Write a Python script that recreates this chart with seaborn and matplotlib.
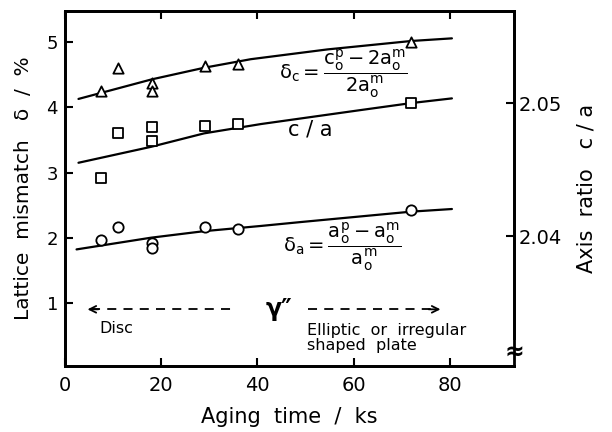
import matplotlib.pyplot as plt
import seaborn as sns

# measured points (aging time in ks)
time_pts = [7.5, 11, 18, 18, 29, 36, 72]
delta_c = [4.25, 4.61, 4.38, 4.25, 4.64, 4.66, 5.00]
ca_ratio = [2.04438, 2.04777, 2.04822, 2.04717, 2.04827, 2.04842, 2.05000]
delta_a = [1.96, 2.16, 1.92, 1.84, 2.16, 2.14, 2.43]

# fitted curves
fit_time_c = [2.8, 18, 29, 38.6, 54.5, 72, 80.4]
fit_delta_c = [4.13, 4.43, 4.61, 4.74, 4.89, 5.02, 5.06]
fit_time_ca = [2.8, 17.9, 28.9, 40.7, 61.4, 72, 80.4]
fit_ca = [2.04551, 2.04671, 2.04772, 2.04842, 2.04947, 2.05000, 2.05035]
fit_time_a = [2.4, 17.9, 28.9, 40.7, 49, 72, 80.4]
fit_delta_a = [1.82, 2.00, 2.10, 2.18, 2.24, 2.40, 2.44]

x_ticks = [0, 20, 40, 60, 80]
y_ticks = [1, 2, 3, 4, 5]
ca_ticks = [2.04, 2.05]

sns.set_theme(style="white")
plt.rcParams['font.family'] = ['DejaVu Sans']
plt.rcParams['mathtext.default'] = 'regular'
for key in ('text.color', 'axes.labelcolor', 'xtick.color', 'ytick.color'):
    plt.rcParams[key] = 'black'

fig = plt.figure(figsize=(6.12, 4.32), dpi=100)
ax = fig.add_axes([65 / 612, 1 - 366 / 432, 449 / 612, 355 / 432])
ax2 = ax.twinx()

line_kw = dict(color='black', lw=1.6, sort=False, estimator=None, legend=False)
mark_kw = dict(color='white', edgecolor='black', linewidth=1.3, s=55, zorder=4, legend=False)

sns.lineplot(x=fit_time_c, y=fit_delta_c, ax=ax, **line_kw)
sns.lineplot(x=fit_time_a, y=fit_delta_a, ax=ax, **line_kw)
sns.lineplot(x=fit_time_ca, y=fit_ca, ax=ax2, **line_kw)
sns.scatterplot(x=time_pts, y=delta_c, ax=ax, marker='^', **mark_kw)
sns.scatterplot(x=time_pts, y=delta_a, ax=ax, marker='o', **mark_kw)
sns.scatterplot(x=time_pts, y=ca_ratio, ax=ax2, marker='s', **mark_kw)

ax.set_xlim(0, 93.3)
ax.set_ylim(0.03, 5.48)
ax2.set_ylim(2.03023, 2.05692)

ax.set_xticks(x_ticks)
ax.set_yticks(y_ticks)
ax2.set_yticks(ca_ticks)
ax2.set_yticklabels(['2.04', '2.05'])

ax.tick_params(axis='both', direction='in', length=6, width=1.5,
               top=True, right=False, left=True, bottom=True)
ax.tick_params(axis='y', pad=5, labelsize=13)
ax.tick_params(axis='x', pad=7, labelsize=14)
ax2.tick_params(axis='y', direction='in', length=6, width=1.5, labelsize=14, pad=3)

for a in (ax, ax2):
    for sp in a.spines.values():
        sp.set_linewidth(2)
        sp.set_color('black')

ax.set_xlabel('Aging  time  /  ks', fontsize=15)
ax.xaxis.set_label_coords(0.5, -0.115)
ax.set_ylabel('Lattice  mismatch   δ  /  %', fontsize=14.5)
ax.yaxis.set_label_coords(-0.071, 0.5)
ax2.set_ylabel('Axis  ratio   c / a', fontsize=15)
ax2.yaxis.set_label_coords(1.14, 0.5)

# formulas and labels
ax.text(57.8, 4.51, r'$\delta_c=\dfrac{c_o^p-2a_o^m}{2a_o^m}$', fontsize=14,
        ha='center', va='center')
ax.text(51, 3.66, 'c / a', fontsize=15, ha='center', va='center')
ax.text(57.5, 1.86, r'$\delta_a=\dfrac{a_o^p-a_o^m}{a_o^m}$', fontsize=14,
        ha='center', va='center')

# gamma'' range arrows
arrow_y = 0.90
ax.plot([5.5, 35.5], [arrow_y, arrow_y], color='black', lw=1.3, ls=(0, (5, 4)))
ax.plot([50.4, 77.0], [arrow_y, arrow_y], color='black', lw=1.3, ls=(0, (5, 4)))
ax.annotate('', xy=(4.1, arrow_y), xytext=(7.5, arrow_y),
            arrowprops=dict(arrowstyle='->', lw=1.3, color='black'))
ax.annotate('', xy=(78.6, arrow_y), xytext=(75.0, arrow_y),
            arrowprops=dict(arrowstyle='->', lw=1.3, color='black'))
ax.text(44.4, arrow_y, 'γ″', fontsize=17, ha='center', va='center', fontweight='bold')
ax.text(7.2, 0.6, 'Disc', fontsize=11.5, ha='left', va='center')
ax.text(50.2, 0.46, 'Elliptic  or  irregular\nshaped  plate', fontsize=11.5,
        ha='left', va='center', linespacing=1.0)

# axis break mark on the right spine
ax.text(1.0, 0.039, '≈', transform=ax.transAxes, fontsize=17, fontweight='bold',
        ha='center', va='center',
        bbox=dict(facecolor='white', edgecolor='none', pad=0.3))

fig.savefig('out.png', dpi=100)
